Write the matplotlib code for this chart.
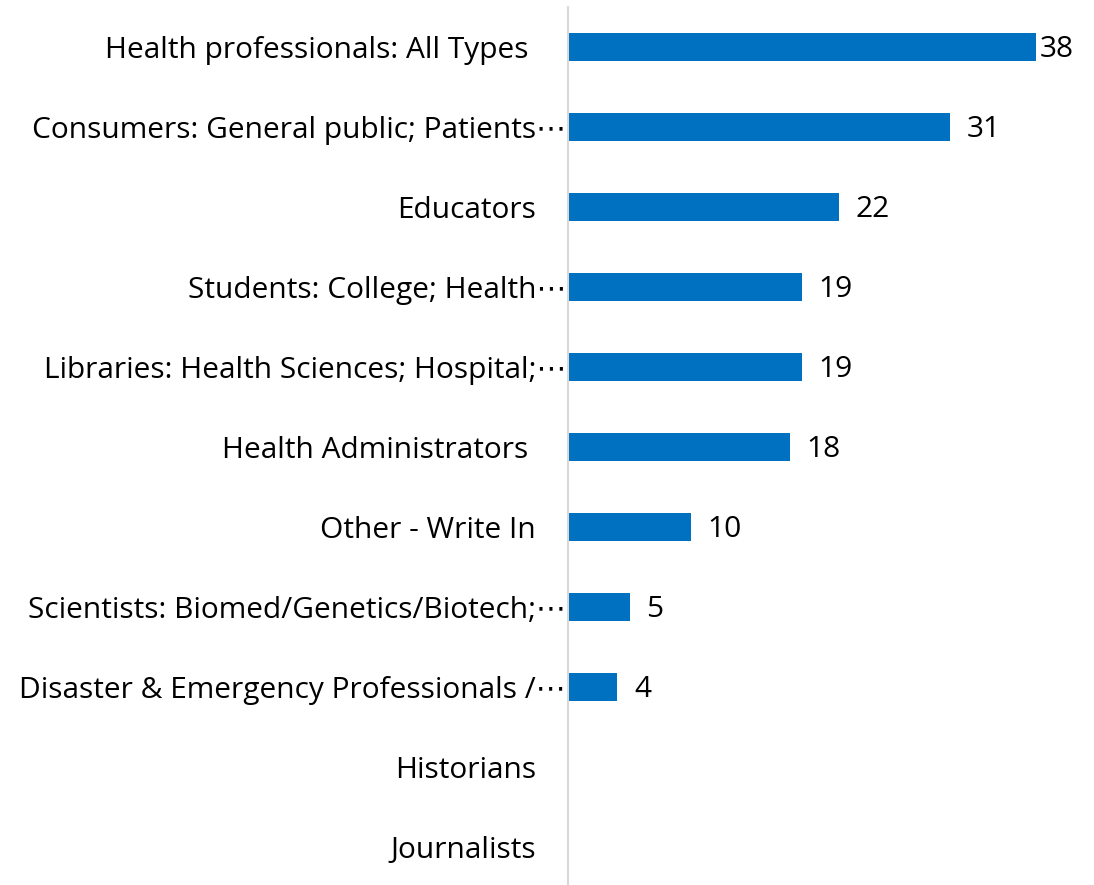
import numpy as np
import matplotlib.pyplot as plt

plt.rcParams['font.family'] = ['Open Sans', 'DejaVu Sans']

# Audience categories and counts, top to bottom
categories = [
    'Health professionals: All Types ',
    'Consumers: General public; Patients\u22ef',
    'Educators',
    'Students: College; Health\u22ef',
    'Libraries: Health Sciences; Hospital;\u22ef',
    'Health Administrators ',
    'Other - Write In',
    'Scientists: Biomed/Genetics/Biotech;\u22ef',
    'Disaster & Emergency Professionals /\u22ef',
    'Historians',
    'Journalists',
]
counts = [38, 31, 22, 19, 19, 18, 10, 5, 4, 0, 0]

bar_color = '#0070C0'
fs = 21.5

fig = plt.figure(figsize=(10.94, 8.85), dpi=100)
ax = fig.add_axes([568 / 1094, -2 / 885, 468 / 1094, 880 / 885])

y = np.arange(len(categories))
ax.barh(y, counts, height=0.35, color=bar_color)

ax.set_xlim(0, 38)
ax.set_ylim(len(categories) - 0.5, -0.5)
ax.set_yticks(y)
ax.set_yticklabels(categories, fontsize=fs)
ax.tick_params(axis='y', length=0)
ax.set_xticks([])

# truncated names sit right against the axis
for tick, name in zip(ax.yaxis.get_major_ticks(), categories):
    tick.set_pad(1.5 if name.endswith('\u22ef') else 23)

for s in ['top', 'right', 'bottom']:
    ax.spines[s].set_visible(False)
ax.spines['left'].set_color('#D9D9D9')
ax.spines['left'].set_linewidth(1.5)

# value labels next to each bar
for yi, v in zip(y, counts):
    if v == 0:
        continue
    off = 3 if v == max(counts) else 12
    ax.annotate(str(v), (v, yi), xytext=(off, -1.5), textcoords='offset points',
                ha='left', va='center', fontsize=fs, annotation_clip=False)

fig.savefig('out.png', dpi=100)
